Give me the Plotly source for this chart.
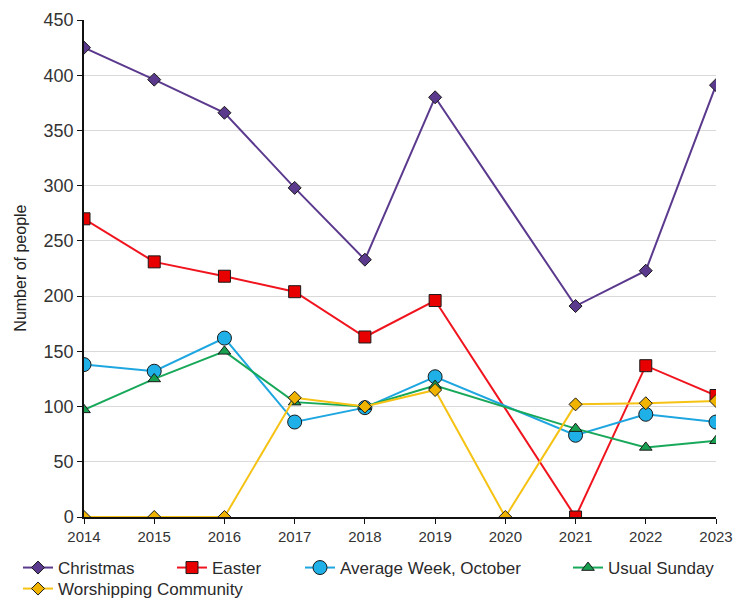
import plotly.graph_objects as go

years = [2014, 2015, 2016, 2017, 2018, 2019, 2020, 2021, 2022, 2023]
christmas = [425, 396, 366, 298, 233, 380, None, 191, 223, 391]
easter = [270, 231, 218, 204, 163, 196, None, 0, 137, 110]
avg_week = [138, 132, 162, 86, 99, 127, None, 74, 93, 86]
usual_sunday = [97, 125, 150, 104, 100, 119, None, 80, 63, 69]
worshipping = [0, 0, 0, 108, 100, 115, 0, 102, 103, 105]

series = [
    ("Christmas", christmas, "#5b3a8e", "#5b3a8e", "diamond", 10),
    ("Easter", easter, "#f0141e", "#e80000", "square", 12),
    ("Average Week, October", avg_week, "#1ea6e0", "#1eb0e6", "circle", 14),
    ("Usual Sunday", usual_sunday, "#18a85a", "#17a050", "triangle-up", 11),
    ("Worshipping Community", worshipping, "#f6c214", "#f0b400", "diamond", 10),
]

W, H = 733, 598
legend_pos = [(18, 568), (172, 568), (300, 568), (568, 568), (18, 589)]

fig = go.Figure()
for i, (name, vals, lc, mc, sym, sz) in enumerate(series):
    lg = "legend" if i == 0 else f"legend{i+1}"
    fig.add_trace(go.Scatter(
        x=years, y=vals, name=name, mode="lines+markers", connectgaps=True,
        line=dict(color=lc, width=2),
        marker=dict(symbol=sym, size=sz, color=mc, line=dict(color="#1a1a1a", width=1)),
        legend=lg,
    ))

layout_legends = {}
for i, (lx, ly) in enumerate(legend_pos):
    key = "legend" if i == 0 else f"legend{i+1}"
    layout_legends[key] = dict(
        xref="container", yref="container", x=lx / W, y=1 - ly / H,
        xanchor="left", yanchor="middle", bgcolor="rgba(0,0,0,0)",
        font=dict(family="Liberation Sans, Arial, sans-serif", size=17, color="#2a2a2a"),
        itemwidth=30, tracegroupgap=0,
    )

fig.update_layout(
    width=W, height=H,
    margin=dict(l=84, r=17, t=20, b=81, autoexpand=False),
    paper_bgcolor="white", plot_bgcolor="white",
    font=dict(family="Liberation Sans, Arial, sans-serif", color="#333"),
    showlegend=True,
    xaxis=dict(
        range=[2014, 2023], tickmode="array", tickvals=years,
        showgrid=False, showline=True, linecolor="#111", linewidth=1.5,
        ticks="outside", ticklen=5, tickcolor="#111", zeroline=False,
        tickfont=dict(size=15, color="#333"),
    ),
    yaxis=dict(
        range=[0, 450], dtick=50, showgrid=True, gridcolor="#d9d9d9", gridwidth=1,
        showline=True, linecolor="#111", linewidth=1.5, ticks="outside", ticklen=5,
        tickcolor="#111", zeroline=False, tickfont=dict(size=18, color="#333"),
    ),
    annotations=[dict(
        text="Number of people", xref="paper", yref="paper",
        x=-0.101, y=0.5, xanchor="center", yanchor="middle", textangle=-90,
        showarrow=False, font=dict(size=16, color="#222"),
    )],
    **layout_legends,
)

fig.write_html("out.html", config={"displayModeBar": False},
               post_script="document.body.style.margin='0';")
